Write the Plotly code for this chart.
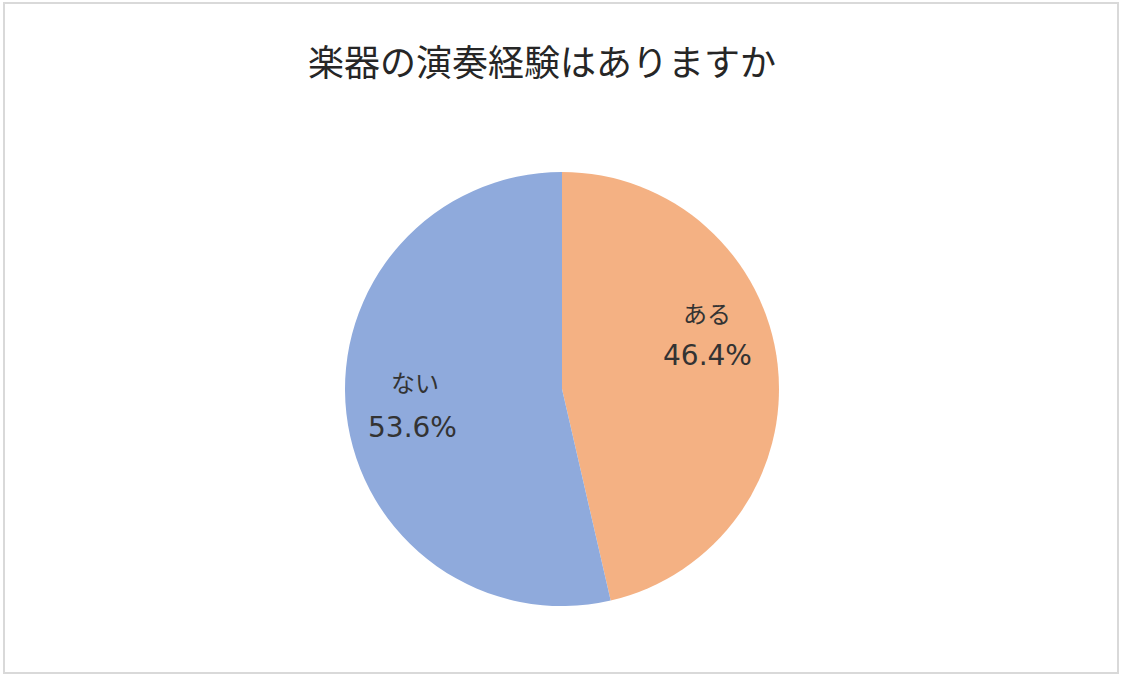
import plotly.graph_objects as go

title_text = "楽器の演奏経験はありますか"
labels = ["ある", "ない"]
values = [46.4, 53.6]
colors = ["#F4B183", "#8FAADC"]

W, H = 1125, 678
cx, cy, r = 562, 389, 217

# label anchor positions (pixels) for each slice: label line, percent line
label_pos = [(707, 312, 707, 355), (415, 382, 412, 427)]

def px(x):
    return x / W

def py(y):
    return 1 - y / H

fig = go.Figure()
fig.add_trace(go.Pie(
    labels=labels,
    values=values,
    sort=False,
    direction="clockwise",
    rotation=0,
    marker=dict(colors=colors, line=dict(color="white", width=0)),
    textinfo="none",
    showlegend=False,
    hoverinfo="label+percent",
    domain=dict(x=[(cx - r) / W, (cx + r) / W], y=[1 - (cy + r) / H, 1 - (cy - r) / H]),
))

total = sum(values)
annotations = []
for lab, val, (lx, ly, vx, vy) in zip(labels, values, label_pos):
    annotations.append(dict(text=lab, x=px(lx), y=py(ly), xref="paper", yref="paper",
                            xanchor="center", yanchor="middle", showarrow=False,
                            font=dict(family="Noto Sans CJK JP", size=24, color="#333333")))
    annotations.append(dict(text=f"{val / total * 100:.1f}%", x=px(vx), y=py(vy), xref="paper", yref="paper",
                            xanchor="center", yanchor="middle", showarrow=False,
                            font=dict(family="DejaVu Sans, Noto Sans CJK JP", size=28, color="#333333")))

fig.update_layout(
    width=W, height=H,
    margin=dict(l=0, r=0, t=0, b=0),
    paper_bgcolor="white",
    plot_bgcolor="white",
    title=dict(text=title_text, x=px(542), xanchor="center", y=py(63), yanchor="middle",
               font=dict(family="Noto Sans CJK JP", size=36, color="#262626")),
    annotations=annotations,
    shapes=[dict(type="rect", xref="paper", yref="paper", x0=px(4), x1=px(1118), y0=py(673), y1=py(3),
                 line=dict(color="#D9D9D9", width=2), fillcolor="rgba(0,0,0,0)")],
)

fig.write_html("out.html", config={"displayModeBar": False},
               post_script="document.body.style.margin='0';document.body.style.overflow='hidden';")
